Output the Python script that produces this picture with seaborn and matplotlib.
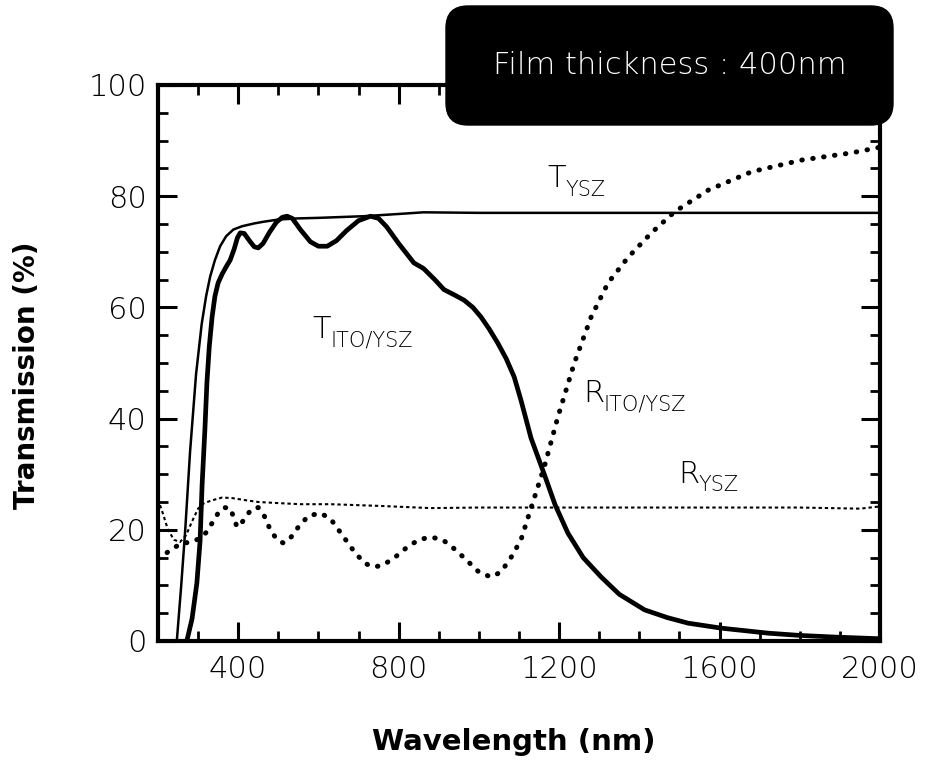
import matplotlib
matplotlib.use("Agg")
import matplotlib.pyplot as plt
from matplotlib.patches import FancyBboxPatch
from matplotlib.transforms import IdentityTransform
from matplotlib.ticker import MultipleLocator
import seaborn as sns

# --- spectra (wavelength in nm, value in %) ---
t_ysz_wl = [247, 258, 268, 280, 295, 309, 320, 330, 342, 355, 370, 388, 410, 440,
            463, 500, 547, 600, 713, 800, 862, 1000, 1200, 1500, 1800, 2000]
t_ysz_val = [0, 10, 20, 34, 48, 57, 62, 65.5, 68.5, 71, 72.8, 74, 74.6, 75.1,
             75.4, 75.8, 76, 76.1, 76.4, 76.8, 77.1, 77, 77, 77, 77, 77]

t_ito_wl = [272, 285, 297, 305, 310, 317, 322, 328, 335, 342, 350, 360, 370, 380,
            390, 398, 405, 415, 428, 440, 450, 462, 478, 495, 510, 522, 535, 555,
            580, 600, 622, 645, 670, 700, 730, 750, 770, 800, 838, 862, 890, 913,
            940, 963, 985, 1005, 1025, 1047, 1068, 1088, 1105, 1130, 1163, 1190,
            1222, 1260, 1305, 1350, 1413, 1470, 1522, 1605, 1722, 1800, 1888, 2000]
t_ito_val = [0, 4, 10.4, 18, 28, 38, 46.4, 53, 58.3, 62, 64.4, 66, 67.3, 68.5,
             70.5, 72.5, 73.4, 73.3, 72, 70.9, 70.7, 71.5, 73.5, 75.3, 76.2, 76.4, 76, 74,
             71.8, 71, 71, 72, 73.8, 75.6, 76.4, 76, 74.5, 71.5, 68, 67, 65, 63.2,
             62.2, 61.3, 60, 58.3, 56.2, 53.6, 50.8, 47.5, 43.3, 36.5, 30, 24.5,
             19.4, 15, 11.5, 8.4, 5.6, 4.2, 3.2, 2.3, 1.4, 1.0, 0.7, 0.4]

r_ito_wl = [200, 215, 240, 262, 285, 305, 320, 335, 350, 365, 380, 390, 397, 405,
            420, 435, 450, 465, 480, 497, 513, 530, 550, 575, 605, 630, 660, 690,
            715, 737, 760, 790, 820, 850, 880, 910, 940, 970, 1000, 1030, 1055, 1080,
            1105, 1130, 1163, 1197, 1238, 1280, 1322, 1372, 1430, 1488, 1572, 1680,
            1805, 1930, 2000]
r_ito_val = [14.8, 15.5, 16.8, 17.6, 17.8, 18.5, 19.5, 21.2, 23, 24, 23.9, 22, 20.5, 20.8,
             22.5, 23.8, 24, 22.5, 20, 18.2, 17.6, 18.5, 20.5, 22.5, 23, 22, 19, 16,
             14, 13.3, 13.6, 15, 16.8, 18.2, 18.7, 18.2, 16.5, 14.5, 12.4, 11.5, 12.4, 15,
             18.2, 23.9, 31.3, 40.3, 50, 58.3, 64.4, 69, 73.4, 77.2, 81.1, 84.4,
             86.5, 87.8, 88.8]

r_ysz_wl = [200, 212, 225, 240, 255, 270, 285, 300, 315, 335, 360, 385, 420, 450,
            500, 555, 630, 750, 880, 1000, 1200, 1400, 1600, 1800, 1950, 2000]
r_ysz_val = [25.5, 23, 20, 18.2, 17.8, 19, 21.5, 23.8, 24.8, 25.3, 25.8, 25.7, 25.3, 25,
             24.8, 24.6, 24.6, 24.3, 23.9, 24, 24, 24, 24, 24, 23.8, 24.2]

x_ticks = [400, 800, 1200, 1600, 2000]
y_ticks = [0, 20, 40, 60, 80, 100]

sns.set_theme(style="ticks")
plt.rcParams["font.family"] = ["DejaVu Sans"]
plt.rcParams["text.color"] = "black"
plt.rcParams["axes.labelcolor"] = "black"
plt.rcParams["xtick.color"] = "black"
plt.rcParams["ytick.color"] = "black"

fig = plt.figure(figsize=(9.33, 7.67), dpi=100)
ax = fig.add_axes([0.1693, 0.1643, 0.7739, 0.7249])

sns.lineplot(x=t_ysz_wl, y=t_ysz_val, ax=ax, color="black", lw=1.8,
             sort=False, estimator=None)
sns.lineplot(x=t_ito_wl, y=t_ito_val, ax=ax, color="black", lw=3.4,
             sort=False, estimator=None)
sns.lineplot(x=r_ito_wl, y=r_ito_val, ax=ax, color="black", lw=3.6,
             sort=False, estimator=None, linestyle=(0, (0.1, 2.1)),
             dash_capstyle="round")
sns.lineplot(x=r_ysz_wl, y=r_ysz_val, ax=ax, color="black", lw=1.5,
             sort=False, estimator=None, linestyle=(0, (1.6, 1.4)))

ax.set_xlim(200, 2000)
ax.set_ylim(0, 100)
ax.xaxis.set_minor_locator(MultipleLocator(100))
ax.yaxis.set_minor_locator(MultipleLocator(5))
ax.set_xticks(x_ticks)
ax.set_yticks(y_ticks)
ax.set_xticklabels([str(v) for v in x_ticks])
ax.set_yticklabels([str(v) for v in y_ticks])

ax.tick_params(which="major", direction="in", length=14, width=2.2,
               top=True, right=True, labelsize=22, colors="black")
ax.tick_params(which="minor", direction="in", length=7, width=2.0,
               top=True, right=True, colors="black")
ax.tick_params(axis="x", which="major", pad=10)
ax.tick_params(axis="y", which="major", pad=8)
for lab in ax.get_xticklabels() + ax.get_yticklabels():
    lab.set_fontweight("light")

for sp in ax.spines.values():
    sp.set_linewidth(3.0)
    sp.set_color("black")

ax.set_xlabel("Wavelength (nm)", fontsize=21, fontweight="bold", color="black")
ax.set_ylabel("Transmission (%)", fontsize=20, fontweight="bold", color="black")
ax.xaxis.label.set_va("center")
ax.yaxis.label.set_va("center")
ax.xaxis.set_label_coords(0.493, -0.182)
ax.yaxis.set_label_coords(-0.181, 0.478)


# curve labels: main letter plus a smaller, lowered subscript
def curve_label(x, y, main, sub, main_w_pt):
    ax.text(x, y, main, fontsize=22, fontweight="light", ha="left",
            va="baseline", color="black")
    ax.annotate(sub, xy=(x, y), xytext=(main_w_pt, -6),
                textcoords="offset points", fontsize=15, fontweight="light",
                ha="left", va="baseline", color="black")


curve_label(1172, 81.6, "T", "YSZ", 13.0)
curve_label(585, 54.5, "T", "ITO/YSZ", 13.0)
curve_label(1260, 43.0, "R", "ITO/YSZ", 14.5)
curve_label(1497, 28.4, "R", "YSZ", 14.5)

# film thickness badge
badge = FancyBboxPatch((446, 642), 447, 119,
                       boxstyle="round,pad=0,rounding_size=22",
                       transform=IdentityTransform(), facecolor="black",
                       edgecolor="black", zorder=5)
fig.add_artist(badge)
fig.text(669.5 / 933, 1 - 66 / 767, "Film thickness : 400nm", color="white",
         fontsize=22, fontweight="light", ha="center", va="center", zorder=6)

fig.savefig("out.png", dpi=100)
